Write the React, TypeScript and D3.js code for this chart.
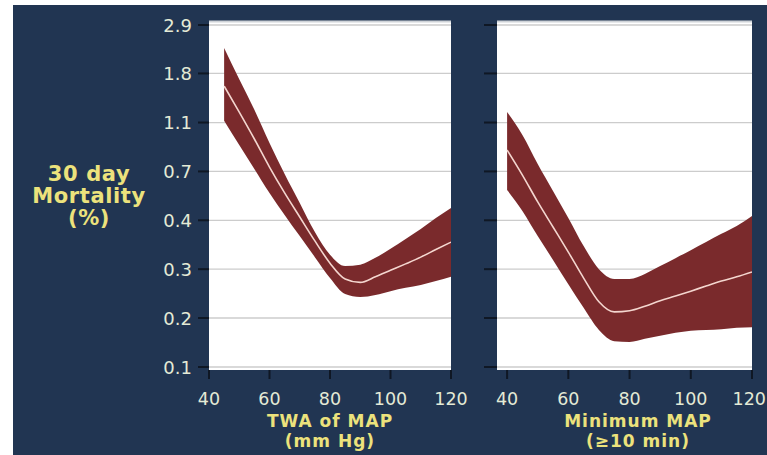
import React from "react";
import * as d3 from "d3";

// x values (mm Hg)
const xLeft = [45, 50, 55, 60, 65, 70, 75, 80, 85, 90, 95, 100, 105, 110, 115, 120];
const leftCenter = [1.59, 1.23, 0.944, 0.716, 0.555, 0.438, 0.346, 0.278, 0.238, 0.23, 0.243, 0.259, 0.276, 0.295, 0.318, 0.342];
const leftUpper = [2.31, 1.7, 1.26, 0.908, 0.669, 0.503, 0.378, 0.302, 0.27, 0.274, 0.293, 0.32, 0.353, 0.389, 0.434, 0.479];
const leftLower = [1.13, 0.89, 0.703, 0.555, 0.447, 0.363, 0.295, 0.24, 0.205, 0.199, 0.203, 0.211, 0.218, 0.224, 0.233, 0.243];

const xRight = [40, 45, 50, 55, 60, 65, 70, 75, 80, 85, 90, 95, 100, 105, 110, 115, 120];
const rightCenter = [0.847, 0.662, 0.508, 0.397, 0.31, 0.24, 0.19, 0.172, 0.174, 0.182, 0.192, 0.201, 0.211, 0.222, 0.233, 0.243, 0.255];
const rightUpper = [1.23, 0.982, 0.738, 0.566, 0.434, 0.329, 0.262, 0.238, 0.238, 0.25, 0.27, 0.292, 0.316, 0.342, 0.371, 0.401, 0.442];
const rightLower = [0.571, 0.465, 0.363, 0.287, 0.226, 0.179, 0.144, 0.129, 0.128, 0.132, 0.136, 0.14, 0.143, 0.144, 0.145, 0.147, 0.148];

const yTickValues = [0.1, 0.162, 0.262, 0.424, 0.686, 1.11, 1.8, 2.9];
const yTickLabels = ["0.1", "0.2", "0.3", "0.4", "0.7", "1.1", "1.8", "2.9"];
const xTickValues = [40, 60, 80, 100, 120];
const yTitle = ["30 day", "Mortality", "(%)"];
const leftXTitle = ["TWA of MAP", "(mm Hg)"];
const rightXTitle = ["Minimum MAP", "(\u226510 min)"];

const NAVY = "#213552";
const BAND = "#7a2a2c";
const YELLOW = "#ece27c";
const LABEL = "#e4ead6";
const FONT = "'DejaVu Sans', Verdana, sans-serif";
const WIDTH = 767;

const y = d3.scaleLog().domain([0.1, 2.9]).range([367, 25]);

type PanelProps = {
  xs: number[];
  center: number[];
  upper: number[];
  lower: number[];
  domain: [number, number];
  range: [number, number];
  title: string[];
  titleX: number;
  id: string;
  tickLen: number;
};

function Panel({ xs, center, upper, lower, domain, range, title, titleX, id, tickLen }: PanelProps) {
  const x = d3.scaleLinear().domain(domain).range(range);
  const top = 21;
  const bottom = 370;
  const idx = xs.map((_, i) => i);
  const area = d3
    .area<number>()
    .x((i) => x(xs[i]))
    .y0((i) => y(lower[i]))
    .y1((i) => y(upper[i]))
    .curve(d3.curveMonotoneX);
  const line = d3
    .line<number>()
    .x((i) => x(xs[i]))
    .y((i) => y(center[i]))
    .curve(d3.curveMonotoneX);
  return (
    <g>
      <defs>
        <clipPath id={id}>
          <rect x={range[0]} y={top} width={range[1] - range[0]} height={bottom - top} />
        </clipPath>
      </defs>
      <rect x={range[0]} y={top} width={range[1] - range[0]} height={bottom - top} fill="#ffffff" />
      <line x1={range[0]} x2={range[1]} y1={top + 0.5} y2={top + 0.5} stroke="#cfd3d8" strokeWidth={2} />
      {yTickValues.map((v, i) => (
        <g key={i}>
          <line x1={range[0]} x2={range[1]} y1={y(v)} y2={y(v)} stroke="#cccccc" strokeWidth={1.3} />
          <line x1={range[0] - tickLen} x2={range[0]} y1={y(v)} y2={y(v)} stroke="#0f1724" strokeWidth={2} />
        </g>
      ))}
      <g clipPath={`url(#${id})`}>
        <path d={area(idx) || ""} fill={BAND} />
        <path d={line(idx) || ""} fill="none" stroke="#f4d6cf" strokeWidth={1.6} />
      </g>
      {xTickValues.map((v) => {
        const px = x(v);
        const nearEdge = px + 18 > WIDTH;
        return (
          <g key={v}>
            <line x1={px} x2={px} y1={bottom} y2={bottom + 9} stroke="#0f1724" strokeWidth={2} />
            <text
              x={nearEdge ? WIDTH - 1 : px}
              y={405}
              textAnchor={nearEdge ? "end" : "middle"}
              fontFamily={FONT}
              fontSize={17.5}
              fill={LABEL}
            >
              {v}
            </text>
          </g>
        );
      })}
      {title.map((t, i) => (
        <text
          key={i}
          x={titleX}
          y={427 + i * 20}
          textAnchor="middle"
          fontFamily={FONT}
          fontWeight="bold"
          fontSize={17}
          letterSpacing={1}
          fill={YELLOW}
        >
          {t}
        </text>
      ))}
    </g>
  );
}

export default function App() {
  return (
    <div style={{ position: "absolute", left: 0, top: 0 }}>
      <svg width={WIDTH} height={455} style={{ display: "block" }}>
        <rect x={0} y={0} width={WIDTH} height={455} fill="#ffffff" />
        <rect x={13} y={5} width={754} height={450} fill={NAVY} />
        {yTickValues.map((v, i) => (
          <text
            key={i}
            x={192}
            y={y(v) + 6.5}
            textAnchor="end"
            fontFamily={FONT}
            fontSize={18}
            fill={LABEL}
          >
            {yTickLabels[i]}
          </text>
        ))}
        {yTitle.map((t, i) => (
          <text
            key={i}
            x={89}
            y={181 + i * 22}
            textAnchor="middle"
            fontFamily={FONT}
            fontWeight="bold"
            fontSize={21}
            letterSpacing={0.6}
            fill={YELLOW}
          >
            {t}
          </text>
        ))}
        <Panel
          xs={xLeft}
          center={leftCenter}
          upper={leftUpper}
          lower={leftLower}
          domain={[40, 120]}
          range={[209, 451]}
          title={leftXTitle}
          titleX={330}
          id="clipL"
          tickLen={11}
        />
        <Panel
          xs={xRight}
          center={rightCenter}
          upper={rightUpper}
          lower={rightLower}
          domain={[36.7, 120]}
          range={[497, 752]}
          title={rightXTitle}
          titleX={638}
          id="clipR"
          tickLen={13}
        />
      </svg>
    </div>
  );
}
